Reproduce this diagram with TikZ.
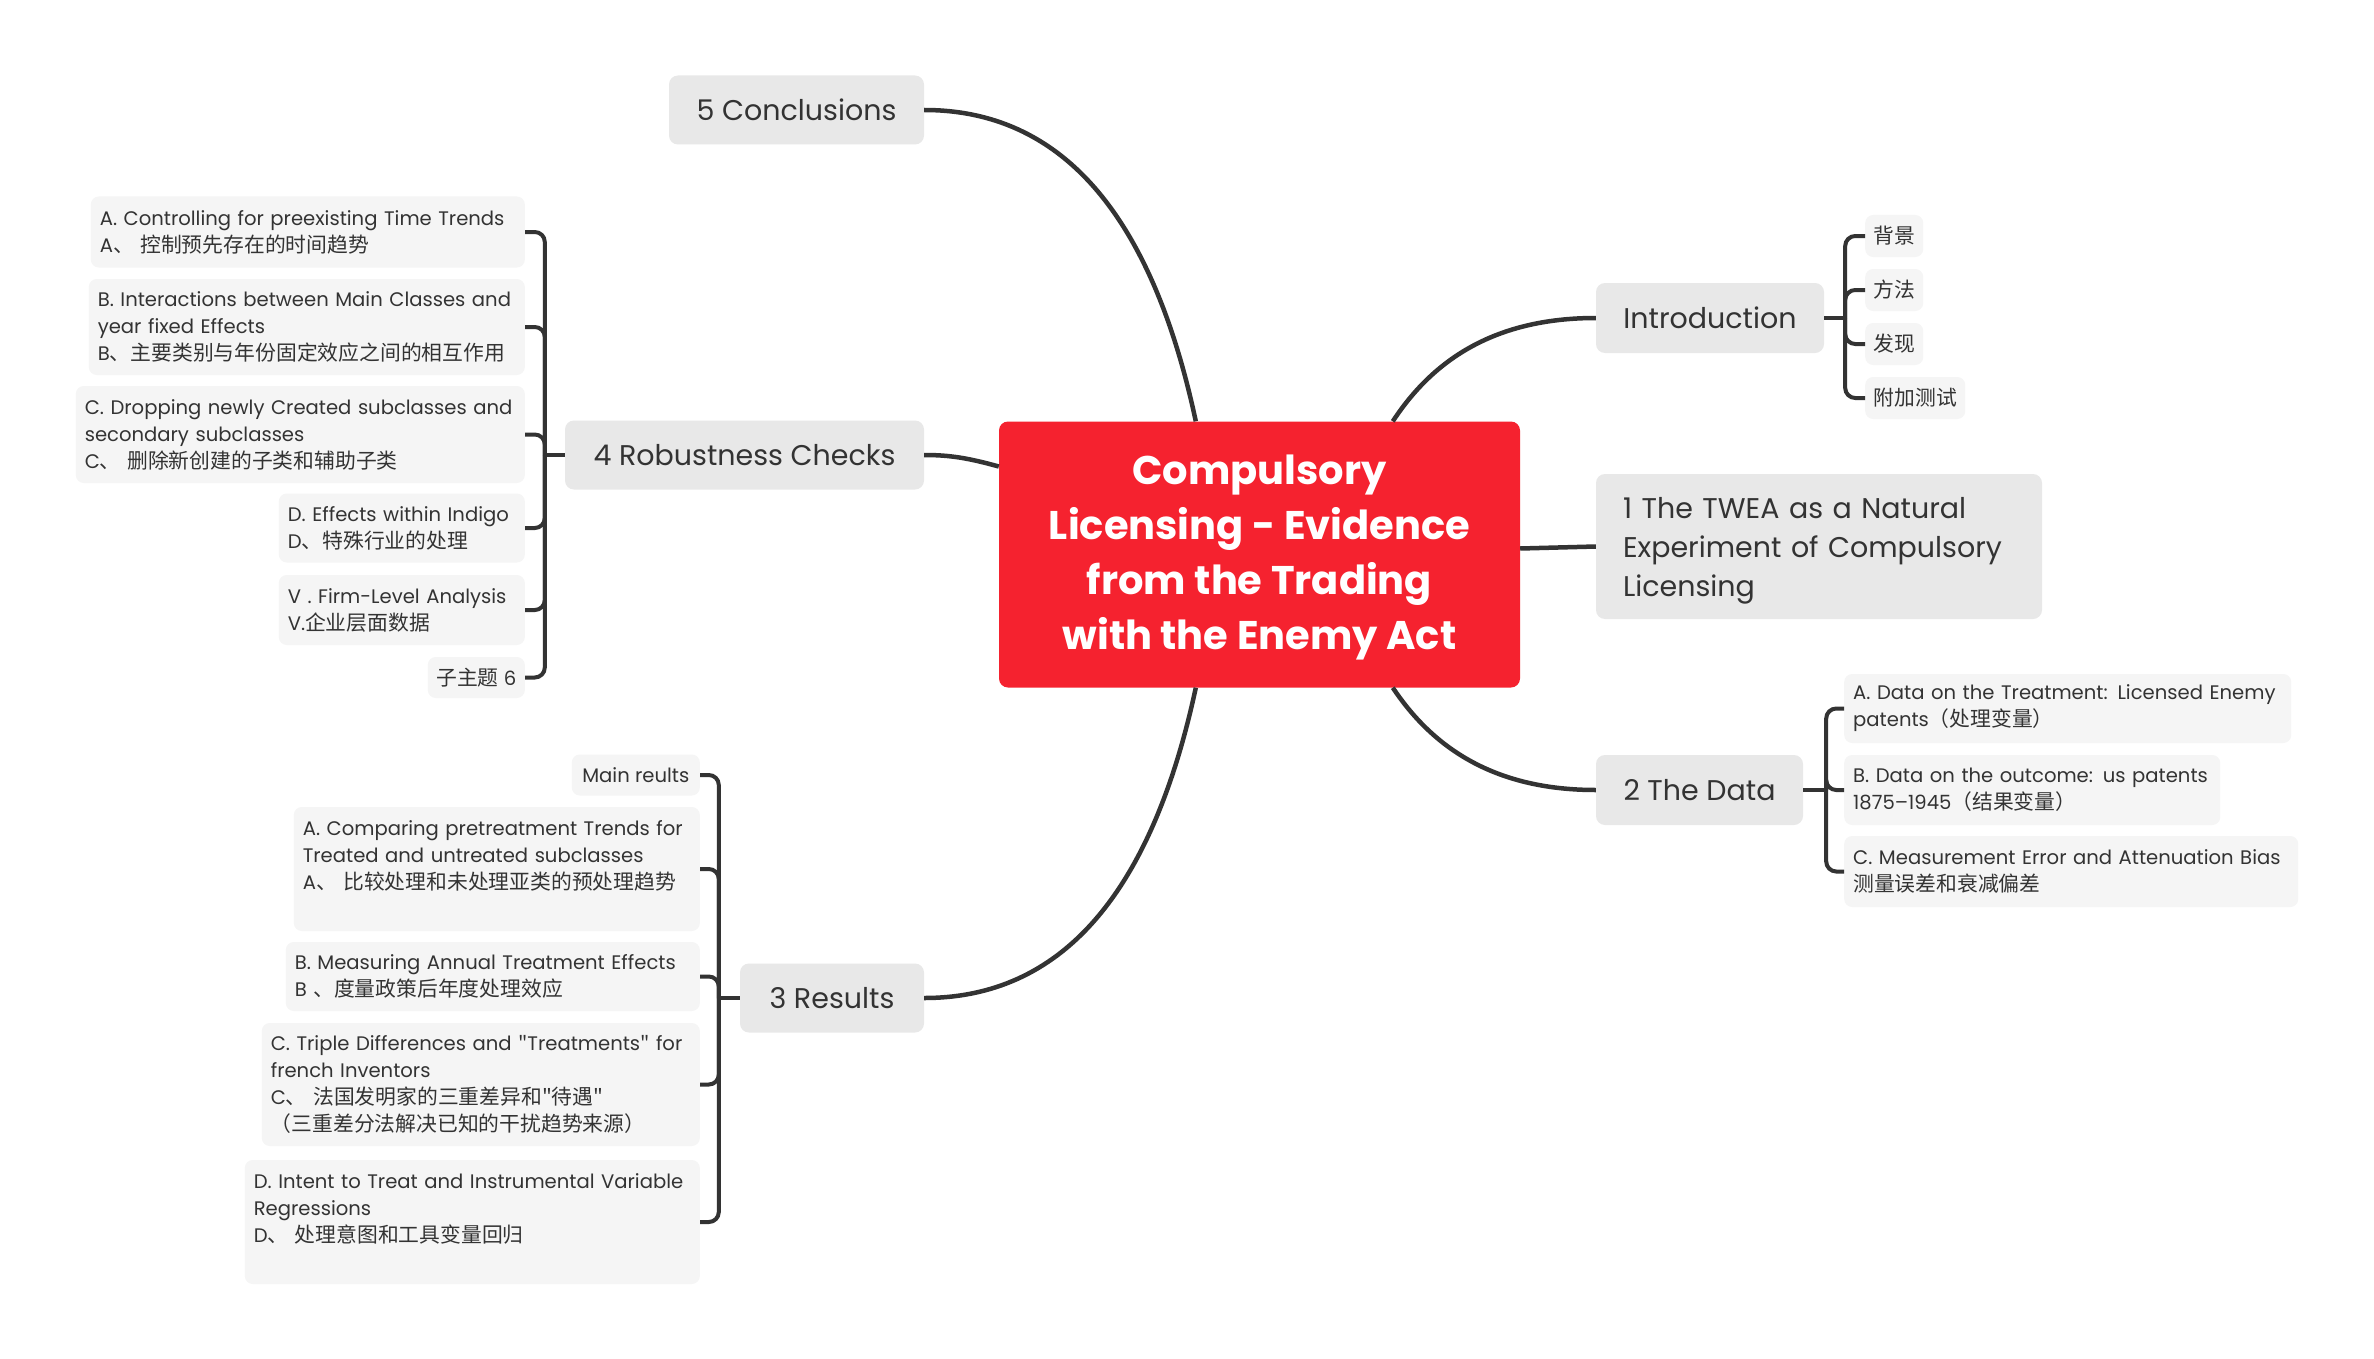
\documentclass[tikz,border=0pt]{standalone}
\usepackage{fontspec}
\setmainfont{Poppins}
\newfontfamily\cjk{Noto Sans CJK SC}
\definecolor{redc}{HTML}{F5222F}
\definecolor{mainfill}{HTML}{E8E8E8}
\definecolor{subfill}{HTML}{F5F5F5}
\definecolor{linec}{HTML}{333333}
\definecolor{textc}{HTML}{333333}
\newcommand\zh[1]{{\cjk\fontsize{20.8}{27}\selectfont #1}}
\newcommand\dq{{\cjk\fontsize{19.6}{27}\selectfont"}}
\begin{document}
\begin{tikzpicture}[x=1pt,y=-1pt,
  central/.style={fill=redc, rounded corners=9pt, text=white, font=\fontsize{40}{55}\selectfont\bfseries, align=center, minimum width=521pt, minimum height=266pt, inner sep=0pt},
  branch/.style={fill=mainfill, rounded corners=9pt, text=textc, font=\fontsize{28.5}{39}\selectfont, minimum height=69pt, inner sep=0pt},
  leaf/.style={fill=subfill, rounded corners=8pt, text=textc, font=\fontsize{19.6}{27}\selectfont, align=left, inner xsep=9pt, inner ysep=0pt},
  small/.style={fill=subfill, rounded corners=8pt, text=textc, font=\fontsize{19.6}{27}\selectfont, inner sep=0pt},
  link/.style={draw=linec, line width=4.5pt},
  brace/.style={draw=linec, line width=4pt, rounded corners=10pt},
]
\useasboundingbox (0,0) rectangle (2374,1359);
\fill[white] (0,0) rectangle (2374,1359);

% central
\node[central] (c) at (1259.5,554.5) {\rule{0pt}{36pt}Compulsory\\Licensing - Evidence\\from the Trading\\with the Enemy Act};

% main branches
\node[branch, minimum width=255pt] (conc) at (796.5,110) {5 Conclusions};
\node[branch, minimum width=359pt] (rob) at (744.5,455) {4 Robustness Checks};
\node[branch, minimum width=184pt] (res) at (832,998) {3 Results};
\node[branch, minimum width=228pt, minimum height=70pt] (intro) at (1710,318) {Introduction};
\node[branch, text width=392pt, inner xsep=27pt, minimum height=145pt, align=left] (twea) at (1819,546.5) {\rule{0pt}{30pt}1 The TWEA as a Natural\\Experiment of Compulsory\\Licensing};
\node[branch, minimum width=207pt, minimum height=70pt] (data) at (1699.5,790) {2 The Data};

% connectors from the central topic
\draw[link] ([xshift=197pt]c.north west) .. controls (1151,212) and (1060,110) .. (conc.east);
\draw[link] ([xshift=197pt]c.south west) .. controls (1151,896) and (1060,998) .. (res.east);
\draw[link] ([yshift=88pt]c.west) .. controls (968,458) and (950,455) .. (rob.east);
\draw[link] ([xshift=394pt]c.north west) .. controls (1431,363) and (1491,318) .. (intro.west);
\draw[link] ([xshift=394pt]c.south west) .. controls (1431,745) and (1491,790) .. (data.west);
\draw[link] ([yshift=6pt]c.east) -- (twea.west);

% Robustness children
\node[leaf, text width=416pt, minimum height=71pt, anchor=east] (r1) at (525,232) {A. Controlling for preexisting Time Trends\\A\zh{、 控制预先存在的时间趋势}};
\node[leaf, text width=418pt, minimum height=96pt, anchor=east] (r2) at (525,327) {B. Interactions between Main Classes and\\year fixed Effects\\B\zh{、主要类别与年份固定效应之间的相互作用}};
\node[leaf, text width=431pt, minimum height=97pt, anchor=east] (r3) at (525,434.5) {C. Dropping newly Created subclasses and\\secondary subclasses\\C\zh{、 删除新创建的子类和辅助子类}};
\node[leaf, text width=228pt, minimum height=69pt, anchor=east] (r4) at (525,528) {D. Effects within Indigo\\D\zh{、特殊行业的处理}};
\node[leaf, text width=228pt, minimum height=70pt, anchor=east] (r5) at (525,610) {V . Firm-Level Analysis\\V.\zh{企业层面数据}};
\node[small, minimum width=97pt, minimum height=41pt, anchor=east] (r6) at (525,677.5) {\zh{子主题} 6};
\coordinate (rbk) at ([xshift=-20pt]rob.west);
\draw[brace] (rob.west) -- (rbk);
\foreach \n in {r1,r2,r3,r4,r5,r6} \draw[brace] (rbk) |- (\n.east);

% Results children
\node[small, minimum width=128pt, minimum height=41pt, anchor=east] (m1) at (700,775) {Main reults};
\node[leaf, text width=388pt, minimum height=124pt, anchor=east] (m2) at (700,869) {A. Comparing pretreatment Trends for\\Treated and untreated subclasses\\A\zh{、 比较处理和未处理亚类的预处理趋势}\\~};
\node[leaf, text width=396pt, minimum height=69pt, anchor=east] (m3) at (700,976.5) {B. Measuring Annual Treatment Effects\\B \zh{、度量政策后年度处理效应}};
\node[leaf, text width=420pt, minimum height=123pt, anchor=east] (m4) at (700,1084.5) {C. Triple Differences and \dq Treatments\dq{} for\\french Inventors\\C\zh{、 法国发明家的三重差异和"待遇"}\\\zh{（三重差分法解决已知的干扰趋势来源）}};
\node[leaf, text width=437pt, minimum height=124pt, anchor=east] (m5) at (700,1222) {D. Intent to Treat and Instrumental Variable\\Regressions\\D\zh{、 处理意图和工具变量回归}\\~};
\coordinate (mbk) at ([xshift=-21pt]res.west);
\draw[brace] (res.west) -- (mbk);
\foreach \n in {m1,m2,m3,m4,m5} \draw[brace] (mbk) |- (\n.east);

% Introduction children
\node[small, minimum width=58pt, minimum height=42pt, anchor=west] (i1) at (1865,236) {\zh{背景}};
\node[small, minimum width=58pt, minimum height=42pt, anchor=west] (i2) at (1865,290) {\zh{方法}};
\node[small, minimum width=58pt, minimum height=42pt, anchor=west] (i3) at (1865,344) {\zh{发现}};
\node[small, minimum width=100pt, minimum height=42pt, anchor=west] (i4) at (1865,398) {\zh{附加测试}};
\coordinate (ibk) at ([xshift=21pt]intro.east);
\draw[brace] (intro.east) -- (ibk);
\foreach \n in {i1,i2,i3,i4} \draw[brace] (ibk) |- (\n.west);

% Data children
\node[leaf, text width=429pt, minimum height=69pt, anchor=west] (d1) at (1844,708.5) {A. Data on the Treatment: Licensed Enemy\\patents\zh{（处理变量）}};
\node[leaf, text width=358pt, minimum height=70pt, anchor=west] (d2) at (1844,790) {B. Data on the outcome: us patents\\1875–1945\zh{（结果变量）}};
\node[leaf, text width=436pt, minimum height=71pt, anchor=west] (d3) at (1844,871.5) {C. Measurement Error and Attenuation Bias\\\zh{测量误差和衰减偏差}};
\coordinate (dbk) at ([xshift=23pt]data.east);
\draw[brace] (data.east) -- (dbk);
\foreach \n in {d1,d2,d3} \draw[brace] (dbk) |- (\n.west);
\end{tikzpicture}
\end{document}
